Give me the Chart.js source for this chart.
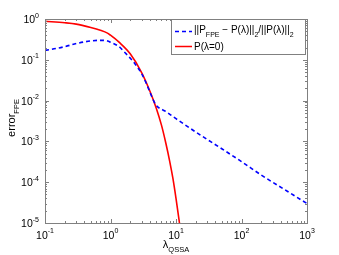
<!DOCTYPE html>
<html>
<head>
<meta charset="utf-8">
<script src="https://cdn.jsdelivr.net/npm/chart.js@4"></script>
<style>
  html, body { margin: 0; padding: 0; background: #fff; }
  #wrap { width: 339px; height: 255px; position: relative; }
</style>
</head>
<body>
<div id="wrap"><canvas id="c" width="339" height="255"></canvas></div>
<script>
// values (log-log)
const lambdaFpe = [0.1, 0.15, 0.2, 0.3, 0.5, 0.7, 0.9, 1, 1.35, 1.6, 2, 2.3, 3, 3.5, 4, 4.9, 7, 10, 20, 50, 100, 200, 500, 1000];
const errFpe    = [0.17, 0.19, 0.21, 0.25, 0.29, 0.30, 0.29, 0.27, 0.21, 0.16, 0.11, 0.085, 0.045, 0.027, 0.016, 0.0080, 0.0054, 0.0036, 0.0017, 0.00066, 0.00032, 0.00015, 0.00006, 0.00003];

const lambdaP0 = [0.1, 0.2, 0.3, 0.5, 0.7, 0.9, 1, 1.35, 2, 3, 4, 5, 6, 7, 8, 9, 10, 11.3, 12];
const errP0    = [0.88, 0.81, 0.75, 0.62, 0.53, 0.45, 0.40, 0.27, 0.14, 0.048, 0.017, 0.0065, 0.0025, 0.0009, 0.00033, 0.00012, 0.00004, 0.00001, 0.000005];

const xTicks   = [0.1, 1, 10, 100, 1000];
const xTickExp = ['-1', '0', '1', '2', '3'];
const yTicks   = [1e-5, 1e-4, 1e-3, 1e-2, 1e-1, 1];
const yTickExp = ['-5', '-4', '-3', '-2', '-1', '0'];

const BLUE = '#0000ff';
const RED  = '#ff0000';
const AXIS = '#808080';
const FONT = "'Liberation Sans', Arial, sans-serif";

function font(size) { return `${size}px ${FONT}`; }

// draws a run of [text, isSub] pieces starting at x, returns the end x
function drawRuns(ctx, runs, x, y, size, subSize, subDrop) {
  runs.forEach(([t, sub]) => {
    ctx.font = font(sub ? subSize : size);
    ctx.fillText(t, x, sub ? y + subDrop : y);
    x += ctx.measureText(t).width;
  });
  return x;
}
function runsWidth(ctx, runs, size, subSize) {
  return runs.reduce((w, [t, sub]) => {
    ctx.font = font(sub ? subSize : size);
    return w + ctx.measureText(t).width;
  }, 0);
}

// MATLAB style box, inward ticks, superscript tick labels, legend
const matlabAxes = {
  id: 'matlabAxes',
  afterDraw(chart) {
    const { ctx, chartArea: a, scales: { x, y } } = chart;
    ctx.save();

    // box
    ctx.strokeStyle = AXIS;
    ctx.lineWidth = 1;
    ctx.strokeRect(Math.round(a.left) + 0.5, Math.round(a.top) + 0.5,
      Math.round(a.right - a.left), Math.round(a.bottom - a.top));

    // ticks
    const tick = (vals, len, horiz) => {
      vals.forEach((v) => {
        if (horiz) {
          const px = Math.round(x.getPixelForValue(v)) + 0.5;
          ctx.beginPath();
          ctx.moveTo(px, a.bottom); ctx.lineTo(px, a.bottom - len);
          ctx.moveTo(px, a.top);    ctx.lineTo(px, a.top + len);
          ctx.stroke();
        } else {
          const py = Math.round(y.getPixelForValue(v)) + 0.5;
          ctx.beginPath();
          ctx.moveTo(a.left, py);  ctx.lineTo(a.left + len, py);
          ctx.moveTo(a.right, py); ctx.lineTo(a.right - len, py);
          ctx.stroke();
        }
      });
    };
    const minors = (majors) => {
      const out = [];
      majors.slice(0, -1).forEach((m) => {
        for (let k = 2; k <= 9; k++) out.push(m * k);
      });
      return out;
    };
    tick(minors(xTicks), 2, true);
    tick(minors(yTicks), 2, false);
    tick(xTicks, 4, true);
    tick(yTicks, 4, false);

    // tick labels
    ctx.fillStyle = '#000';
    ctx.textBaseline = 'alphabetic';
    ctx.textAlign = 'left';
    xTicks.forEach((v, i) => {
      const px = x.getPixelForValue(v);
      ctx.font = font(10.5);
      const wb = ctx.measureText('10').width;
      ctx.font = font(7);
      const we = ctx.measureText(xTickExp[i]).width;
      const x0 = px - (wb + we) / 2;
      ctx.font = font(10.5);
      ctx.fillText('10', x0, a.bottom + 16);
      ctx.font = font(7);
      ctx.fillText(xTickExp[i], x0 + wb, a.bottom + 10);
    });
    yTicks.forEach((v, i) => {
      const py = y.getPixelForValue(v);
      ctx.font = font(7);
      const we = ctx.measureText(yTickExp[i]).width;
      ctx.font = font(10.5);
      const wb = ctx.measureText('10').width;
      const x1 = a.left - 6;
      ctx.fillText('10', x1 - we - wb, py + 4);
      ctx.font = font(7);
      ctx.fillText(yTickExp[i], x1 - we, py - 1.5);
    });

    // axis titles
    const xt = [['λ', false], ['QSSA', true]];
    const xw = runsWidth(ctx, xt, 11, 7.5);
    drawRuns(ctx, xt, (a.left + a.right) / 2 - xw / 2, 248, 11, 7.5, 4);

    const yt = [['error', false], ['FPE', true]];
    const yw = runsWidth(ctx, yt, 11, 7.5);
    ctx.save();
    ctx.translate(15, (a.top + a.bottom) / 2 - 3);
    ctx.rotate(-Math.PI / 2);
    drawRuns(ctx, yt, -yw / 2, 0, 11, 7.5, 4);
    ctx.restore();

    // legend
    const L = { left: 171.5, top: 19.5, right: 305.5, bottom: 54.5 };
    ctx.fillStyle = '#fff';
    ctx.fillRect(L.left, L.top, L.right - L.left, L.bottom - L.top);
    ctx.strokeStyle = AXIS;
    ctx.strokeRect(L.left, L.top, L.right - L.left, L.bottom - L.top);

    ctx.lineWidth = 1.5;
    ctx.strokeStyle = BLUE;
    ctx.setLineDash([4, 3]);
    ctx.beginPath(); ctx.moveTo(175, 31.5); ctx.lineTo(192, 31.5); ctx.stroke();
    ctx.setLineDash([]);
    ctx.strokeStyle = RED;
    ctx.beginPath(); ctx.moveTo(175, 46.5); ctx.lineTo(192, 46.5); ctx.stroke();

    ctx.fillStyle = '#000';
    const row1 = [['||P', false], ['FPE', true], [' − P(λ)||', false], ['2', true],
      ['/||P(λ)||', false], ['2', true]];
    drawRuns(ctx, row1, 194, 33, 10, 7, 3.5);
    drawRuns(ctx, [['P(λ=0)', false]], 194, 50, 10, 7, 3.5);

    ctx.restore();
  },
};

const pts = (xs, ys) => xs.map((v, i) => ({ x: v, y: ys[i] }));

new Chart(document.getElementById('c'), {
  type: 'line',
  data: {
    datasets: [
      {
        label: '||P_FPE − P(λ)||_2/||P(λ)||_2',
        data: pts(lambdaFpe, errFpe),
        borderColor: BLUE,
        borderWidth: 1.6,
        borderDash: [4, 3],
        pointRadius: 0,
        cubicInterpolationMode: 'monotone',
        clip: 0,
      },
      {
        label: 'P(λ=0)',
        data: pts(lambdaP0, errP0),
        borderColor: RED,
        borderWidth: 1.6,
        pointRadius: 0,
        cubicInterpolationMode: 'monotone',
        clip: 0,
      },
    ],
  },
  options: {
    responsive: false,
    animation: false,
    layout: { padding: { left: 45, right: 32, top: 19, bottom: 32 } },
    plugins: { legend: { display: false }, tooltip: { enabled: false } },
    scales: {
      x: { type: 'logarithmic', min: 0.1, max: 1000, display: false },
      y: { type: 'logarithmic', min: 1e-5, max: 1, display: false },
    },
  },
  plugins: [matlabAxes],
});
</script>
</body>
</html>
